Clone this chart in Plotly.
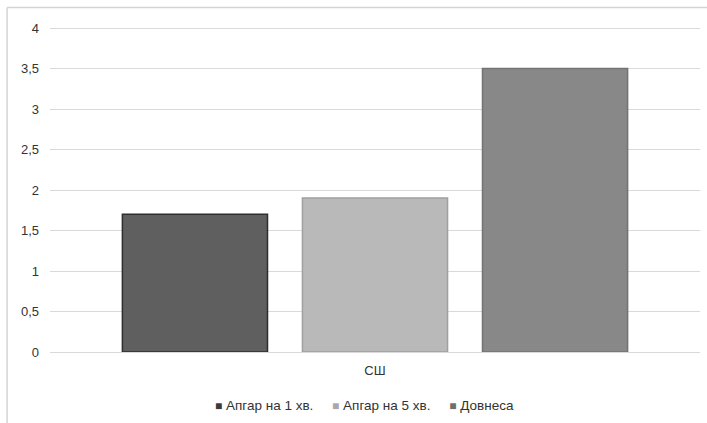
import plotly.graph_objects as go

# Data
categories = ["СШ"]
series_names = ["Апгар на 1 хв.", "Апгар на 5 хв.", "Довнеса"]
series_values = [[1.7], [1.9], [3.5]]
y_ticks = [0, 0.5, 1, 1.5, 2, 2.5, 3, 3.5, 4]

fill_colors = ["#5f5f5f", "#b9b9b9", "#888888"]
line_colors = ["#2e2e2e", "#a0a0a0", "#737373"]

fig = go.Figure()
for name, vals, fc, lc in zip(series_names, series_values, fill_colors, line_colors):
    fig.add_trace(go.Bar(
        x=categories, y=vals, name=name, showlegend=False,
        marker=dict(color=fc, line=dict(color=lc, width=1.5)),
    ))

font = dict(family="Liberation Sans, Arial, sans-serif", size=13, color="#333333")
legend_font = dict(family="Liberation Sans, Arial, sans-serif", size=13.5, color="#333333")

# Compact legend: small square swatch followed by the series name
legend_text = "&nbsp;&nbsp;&nbsp;&nbsp;&nbsp;".join(
    f"<span style='color:{lc};font-size:12px'>■</span>&nbsp;{name}"
    for name, lc in zip(series_names, ["#3a3a3a", "#a8a8a8", "#6e6e6e"])
)

fig.update_layout(
    width=707, height=423,
    margin=dict(l=50, r=7, t=24, b=71),
    paper_bgcolor="white", plot_bgcolor="white",
    separators=", ",
    font=font,
    barmode="group",
    bargap=0.169,
    bargroupgap=0.194,
    showlegend=False,
    xaxis=dict(showgrid=False, showline=False, ticks="", ticklabelstandoff=9,
               tickfont=font),
    yaxis=dict(range=[0, 4.0494], tickvals=y_ticks, showgrid=True, gridcolor="#d9d9d9",
               gridwidth=1, zeroline=True, zerolinecolor="#d9d9d9", zerolinewidth=1,
               showline=False, ticks="", ticklabelstandoff=10, tickfont=font),
    annotations=[
        dict(text=legend_text, xref="paper", yref="paper", x=0.4846, y=-0.162,
             xanchor="center", yanchor="middle", showarrow=False, font=legend_font),
    ],
    shapes=[
        dict(type="line", xref="paper", yref="paper", x0=-0.066, x1=-0.066, y0=1.05, y1=-0.3,
             line=dict(color="#d4d4d4", width=1.5)),
        dict(type="line", xref="paper", yref="paper", x0=-0.066, x1=1.05, y0=1.05, y1=1.05,
             line=dict(color="#d4d4d4", width=1.5)),
    ],
)

fig.write_html("out.html")
